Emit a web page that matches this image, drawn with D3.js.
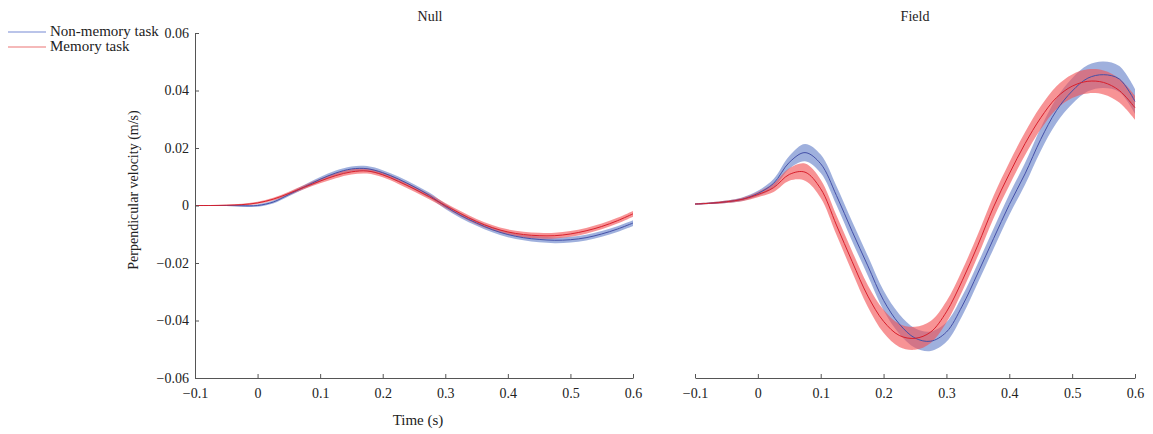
<!DOCTYPE html>
<html><head><meta charset="utf-8">
<script src="https://cdn.jsdelivr.net/npm/d3@7"></script>
<style>
html,body{margin:0;padding:0;background:#fff;}
svg{display:block;font-family:"Liberation Serif","DejaVu Serif",serif;}
</style></head>
<body><svg id="c" width="1153" height="434"></svg>
<script>
// ---- data ----
const time = [-0.1,-0.075,-0.05,-0.025,0,0.025,0.05,0.075,0.1,0.125,0.15,0.175,0.2,0.225,0.25,0.275,0.3,0.325,0.35,0.375,0.4,0.425,0.45,0.475,0.5,0.525,0.55,0.575,0.6];
const panels = ["Null","Field"];
const seriesNames = ["Non-memory task","Memory task"];
const xTicks = [-0.1,0,0.1,0.2,0.3,0.4,0.5,0.6];
const yTicks = [-0.06,-0.04,-0.02,0,0.02,0.04,0.06];

const nullNonMemMean = [0,0,0,-0.0001,0.0000,0.0012,0.0038,0.0065,0.0091,0.0113,0.0127,0.0128,0.0114,0.0092,0.0065,0.0035,-0.0003,-0.0035,-0.0061,-0.0084,-0.0101,-0.0112,-0.0118,-0.0121,-0.0119,-0.0112,-0.0099,-0.0082,-0.0061];
const nullNonMemSem  = [0.0002,0.0002,0.0002,0.0003,0.0004,0.0005,0.0006,0.0007,0.0008,0.0009,0.0009,0.0009,0.0009,0.0009,0.0009,0.0009,0.0009,0.0009,0.0009,0.0009,0.0009,0.0009,0.0010,0.0010,0.0010,0.0010,0.0010,0.0010,0.0010];
const nullMemMean    = [0,0,0.0001,0.0003,0.0009,0.0022,0.0042,0.0064,0.0085,0.0104,0.0117,0.0120,0.0107,0.0084,0.0058,0.0030,0.0000,-0.0029,-0.0056,-0.0077,-0.0092,-0.0101,-0.0105,-0.0105,-0.0099,-0.0088,-0.0073,-0.0053,-0.0029];
const nullMemSem     = [0.0002,0.0002,0.0002,0.0003,0.0004,0.0005,0.0006,0.0007,0.0008,0.0009,0.0009,0.0009,0.0009,0.0009,0.0009,0.0009,0.0009,0.0009,0.0009,0.0009,0.0009,0.0010,0.0010,0.0010,0.0010,0.0010,0.0010,0.0010,0.0010];

const fieldNonMemMean = [0.0005,0.0008,0.0013,0.0022,0.0042,0.0077,0.0150,0.0184,0.0145,0.0035,-0.0090,-0.0210,-0.0330,-0.0412,-0.0461,-0.0472,-0.0440,-0.0350,-0.0235,-0.0115,0.0003,0.0110,0.0230,0.0330,0.0398,0.0443,0.0455,0.0440,0.0362];
const fieldNonMemSem  = [0.0002,0.0003,0.0004,0.0006,0.0009,0.0015,0.0022,0.0030,0.0032,0.0033,0.0034,0.0034,0.0034,0.0034,0.0034,0.0034,0.0034,0.0034,0.0034,0.0035,0.0036,0.0038,0.0040,0.0043,0.0045,0.0046,0.0046,0.0045,0.0043];
const fieldMemMean    = [0.0005,0.0008,0.0013,0.0021,0.0038,0.0062,0.0108,0.0116,0.0058,-0.0068,-0.0195,-0.0315,-0.0403,-0.0452,-0.0462,-0.0440,-0.0370,-0.0262,-0.0138,-0.0005,0.0110,0.0215,0.0305,0.0375,0.0415,0.0432,0.0428,0.0400,0.0340];
const fieldMemSem     = [0.0002,0.0003,0.0004,0.0006,0.0009,0.0015,0.0022,0.0030,0.0032,0.0034,0.0036,0.0038,0.0040,0.0040,0.0040,0.0038,0.0037,0.0037,0.0038,0.0039,0.0040,0.0040,0.0040,0.0040,0.0041,0.0042,0.0042,0.0042,0.0042];

const panelData = [
  [{mean:nullNonMemMean, sem:nullNonMemSem}, {mean:nullMemMean, sem:nullMemSem}],
  [{mean:fieldNonMemMean, sem:fieldNonMemSem}, {mean:fieldMemMean, sem:fieldMemSem}]
];

// ---- styles ----
const bandFill = ["rgba(100,128,200,0.62)","rgba(242,80,84,0.62)"];
const lineColor = ["#4450a8","#d8202c"];
const legendColor = ["#a3b0e2","#f2a2a2"];
const axisColor = "#555";
const textColor = "#222";

const svg = d3.select("#c");
const y = d3.scaleLinear().domain([-0.06,0.06]).range([378,33]);
const panelX = [[195,633],[695,1135]];
const titleX = [430,915];

const fmt = v => v === 0 ? "0" : d3.format(".2f")(v).replace("-", "\u2212");
const fmtX = v => v === 0 ? "0" : d3.format(".1f")(v).replace("-", "\u2212");

panels.forEach((name, p) => {
  const x = d3.scaleLinear().domain([-0.1,0.6]).range(panelX[p]);
  const g = svg.append("g");

  panelData[p].forEach((s, i) => {
    const pts = time.map((t,k)=>({t, m:s.mean[k], e:s.sem[k]}));
    const area = d3.area().x(d=>x(d.t)).y0(d=>y(d.m - d.e)).y1(d=>y(d.m + d.e)).curve(d3.curveCatmullRom.alpha(0.5));
    g.append("path").attr("d", area(pts)).attr("fill", bandFill[i]).attr("stroke","none");
  });
  panelData[p].forEach((s, i) => {
    const pts = time.map((t,k)=>({t, m:s.mean[k]}));
    const line = d3.line().x(d=>x(d.t)).y(d=>y(d.m)).curve(d3.curveCatmullRom.alpha(0.5));
    g.append("path").attr("d", line(pts)).attr("fill","none").attr("stroke", lineColor[i]).attr("stroke-width", 1);
  });

  // x axis
  const xa = g.append("g").attr("transform","translate(0,378)")
    .call(d3.axisBottom(x).tickValues(xTicks).tickSizeInner(-4).tickSizeOuter(0).tickPadding(10).tickFormat(fmtX));
  xa.select(".domain").attr("stroke", axisColor);
  xa.selectAll(".tick line").attr("stroke", axisColor);
  xa.selectAll("text").attr("fill", textColor).attr("font-size", 14).attr("font-family","Liberation Serif, serif");

  if (p === 0) {
    const ya = g.append("g").attr("transform","translate(195,0)")
      .call(d3.axisLeft(y).tickValues(yTicks).tickSizeInner(-4).tickSizeOuter(0).tickPadding(6).tickFormat(fmt));
    ya.select(".domain").attr("stroke", axisColor);
    ya.selectAll(".tick line").attr("stroke", axisColor);
    ya.selectAll("text").attr("fill", textColor).attr("font-size", 14).attr("font-family","Liberation Serif, serif");
  }

  svg.append("text").attr("x", titleX[p]).attr("y", 21).attr("text-anchor","middle")
    .attr("font-size", 14).attr("fill", textColor).text(name);
});

svg.append("text").attr("x", 418).attr("y", 425).attr("text-anchor","middle")
  .attr("font-size", 15).attr("fill", textColor).text("Time (s)");
svg.append("text").attr("transform","translate(138,190) rotate(-90)").attr("text-anchor","middle")
  .attr("font-size", 14).attr("fill", textColor).text("Perpendicular velocity (m/s)");

// legend
seriesNames.forEach((n,i)=>{
  const ly = 32 + i*15;
  svg.append("line").attr("x1",8).attr("x2",46).attr("y1",ly).attr("y2",ly)
    .attr("stroke", legendColor[i]).attr("stroke-width",1.5);
  svg.append("text").attr("x",50).attr("y",ly+4).attr("font-size",15).attr("fill",textColor).text(n);
});
</script></body></html>
